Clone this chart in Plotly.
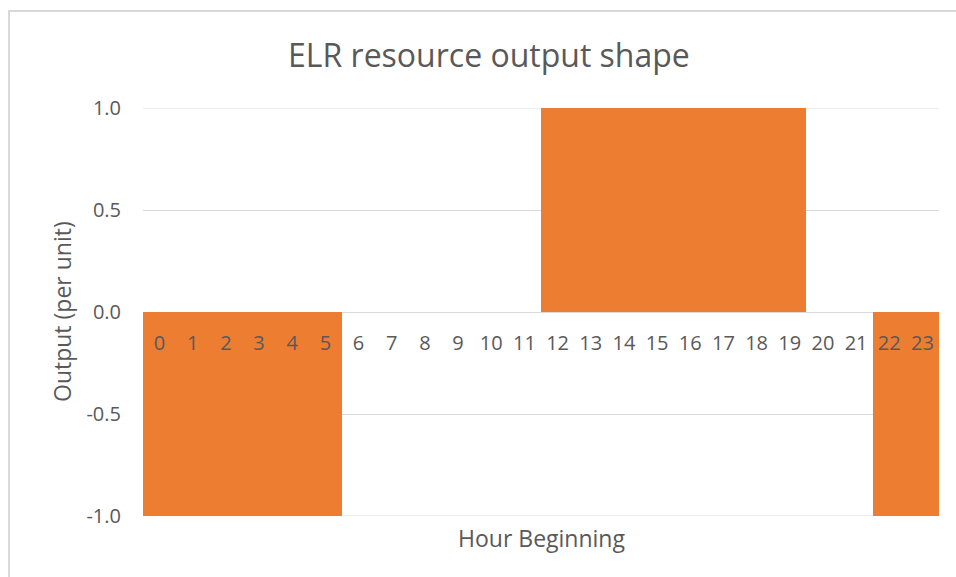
import plotly.graph_objects as go

hours = list(range(24))
output = [-1, -1, -1, -1, -1, -1, 0, 0, 0, 0, 0, 0,
          1, 1, 1, 1, 1, 1, 1, 1, 0, 0, -1, -1]
y_ticks = [-1.0, -0.5, 0.0, 0.5, 1.0]
y_tick_labels = ["-1.0", "-0.5", "0.0", "0.5", "1.0"]

title_text = "ELR resource output shape"
x_title = "Hour Beginning"
y_title = "Output (per unit)"

FONT = "Open Sans"
GREY = "#595959"
GRID = "#d9d9d9"

W, H = 956, 577
L, R, T, B = 143, 956 - 939, 108, 577 - 516
pw, ph = W - L - R, H - T - B

def px_x(x):
    return (x - L) / pw

def px_y(y):
    return (H - B - y) / ph

fig = go.Figure()
fig.add_trace(go.Bar(
    x=hours, y=output,
    marker=dict(color="#ED7D31", line=dict(width=0)),
    hoverinfo="x+y",
))

fig.update_layout(
    width=W, height=H,
    margin=dict(l=L, r=R, t=T, b=B, pad=0),
    paper_bgcolor="white", plot_bgcolor="white",
    bargap=0,
    showlegend=False,
    font=dict(family=FONT, color=GREY, size=20),
    xaxis=dict(
        type="linear",
        range=[-0.5, 23.5],
        tickmode="array", tickvals=hours, ticktext=[str(h) for h in hours],
        anchor="free", position=0.5,
        showgrid=False, showline=False, zeroline=False,
        ticks="", ticklabelstandoff=17,
        tickfont=dict(family=FONT, size=20, color=GREY),
    ),
    yaxis=dict(
        range=[min(y_ticks), max(y_ticks)],
        tickmode="array", tickvals=y_ticks, ticktext=y_tick_labels,
        showgrid=True, gridcolor=GRID, gridwidth=1,
        zeroline=True, zerolinecolor=GRID, zerolinewidth=1,
        showline=False, ticks="", ticklabelstandoff=21,
        tickfont=dict(family=FONT, size=20, color=GREY),
    ),
    annotations=[
        dict(text=title_text, x=px_x(489), y=px_y(54), xref="paper", yref="paper",
             xanchor="center", yanchor="middle", showarrow=False,
             font=dict(family=FONT, size=32, color=GREY)),
        dict(text=x_title, x=0.5, y=px_y(538), xref="paper", yref="paper",
             xanchor="center", yanchor="middle", showarrow=False,
             font=dict(family=FONT, size=23, color=GREY)),
        dict(text=y_title, x=px_x(62), y=px_y(312), xref="paper", yref="paper",
             xanchor="center", yanchor="middle", showarrow=False, textangle=-90,
             font=dict(family=FONT, size=23, color=GREY)),
    ],
    shapes=[
        dict(type="path", xref="paper", yref="paper",
             path=f"M {px_x(9)},{px_y(640)} L {px_x(9)},{px_y(11)} L {px_x(1000)},{px_y(11)}",
             line=dict(color=GRID, width=2)),
    ] + [
        dict(type="line", xref="paper", yref="y", x0=0, x1=1, y0=v, y1=v,
             layer="below", line=dict(color=GRID, width=1))
        for v in (y_ticks[0], y_ticks[-1])
    ],
)

fig.write_html(
    "out.html",
    config={"displayModeBar": False},
    post_script="document.body.style.margin='0';document.body.style.overflow='hidden';",
)
